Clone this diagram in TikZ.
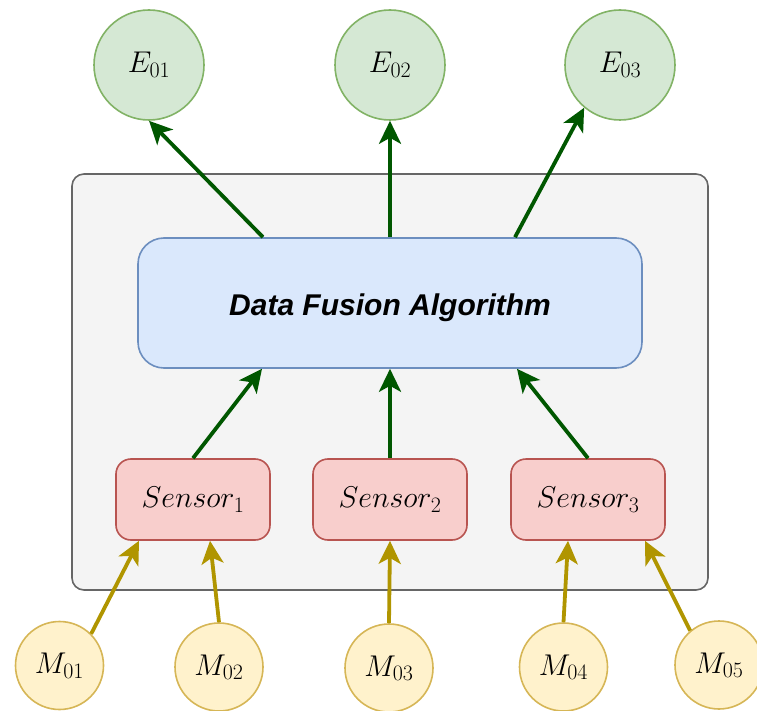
\RequirePackage{fix-cm}
\documentclass[tikz,border=0pt]{standalone}
\usepackage{fontspec}
\newfontfamily\labelsans{Liberation Sans}
\usetikzlibrary{arrows.meta}
\DeclareMathSizes{30}{30}{22}{16}
\definecolor{eFill}{HTML}{D5E8D4}
\definecolor{eLine}{HTML}{82B366}
\definecolor{mFill}{HTML}{FFF2CC}
\definecolor{mLine}{HTML}{D6B656}
\definecolor{sFill}{HTML}{F8CECC}
\definecolor{sLine}{HTML}{B85450}
\definecolor{aFill}{HTML}{DAE8FC}
\definecolor{aLine}{HTML}{6C8EBF}
\definecolor{boxFill}{HTML}{F4F4F4}
\definecolor{boxLine}{HTML}{666666}
\definecolor{outArrow}{HTML}{005700}
\definecolor{inArrow}{HTML}{B09500}
\tikzset{
  x=1pt, y=-1pt,
  mathlabel/.style={font=\fontsize{30}{34}\selectfont},
  estimate/.style={circle, draw=eLine, fill=eFill, line width=1.6pt, minimum size=110pt, inner sep=0pt, mathlabel},
  measure/.style={circle, draw=mLine, fill=mFill, line width=1.6pt, minimum size=88pt, inner sep=0pt, mathlabel},
  sensorbox/.style={rounded corners=15pt, draw=sLine, fill=sFill, line width=1.6pt, minimum width=154pt, minimum height=81pt, inner sep=0pt, mathlabel},
  fusionbox/.style={rounded corners=26pt, draw=aLine, fill=aFill, line width=1.6pt, minimum width=504pt, minimum height=130pt, inner sep=0pt, font=\labelsans\bfseries\itshape\fontsize{30}{34}\selectfont},
  outflow/.style={draw=outArrow, line width=3.8pt, -{Stealth[length=23pt, width=22pt, inset=6pt]}},
  inflow/.style={draw=inArrow, line width=3.8pt, -{Stealth[length=23pt, width=22pt, inset=6pt]}},
}
\begin{document}
\begin{tikzpicture}
\useasboundingbox (0,0) rectangle (757,711);
% enclosing panel
\draw[boxLine, fill=boxFill, line width=1.6pt, rounded corners=12pt] (72,174) rectangle (708,590);
% fusion stage (label baseline set below the box centre)
\node[fusionbox] (fusion) at (390,303) {\smash{\raisebox{-12pt}{Data Fusion Algorithm}}};
% sensors
\node[sensorbox] (s1) at (193,499.5) {$Sensor_1$};
\node[sensorbox] (s2) at (390,499.5) {$Sensor_2$};
\node[sensorbox] (s3) at (588,499.5) {$Sensor_3$};
% estimates
\node[estimate] (e1) at (149,65) {$E_{01}$};
\node[estimate] (e2) at (390,65) {$E_{02}$};
\node[estimate] (e3) at (620,65) {$E_{03}$};
% measurements
\node[measure] (m1) at (59.5,665.5) {$M_{01}$};
\node[measure] (m2) at (219,667) {$M_{02}$};
\node[measure] (m3) at (389,668) {$M_{03}$};
\node[measure] (m4) at (563.5,667) {$M_{04}$};
\node[measure] (m5) at (719,665) {$M_{05}$};
% fusion to estimates
\draw[outflow] ([xshift=-127pt]fusion.north) -- (e1.south);
\draw[outflow] (fusion.north) -- (e2.south);
\draw[outflow] ([xshift=125pt]fusion.north) -- (e3.-130);
% sensors to fusion
\draw[outflow] (s1.north) -- ([xshift=-128pt]fusion.south);
\draw[outflow] (s2.north) -- (fusion.south);
\draw[outflow] (s3.north) -- ([xshift=127pt]fusion.south);
% measurements to sensors
\draw[inflow] (m1.45) -- ([xshift=-54pt]s1.south);
\draw[inflow] (m2.north) -- ([xshift=17pt]s1.south);
\draw[inflow] (m3.north) -- (s2.south);
\draw[inflow] (m4.north) -- ([xshift=-20pt]s3.south);
\draw[inflow] (m5.130) -- ([xshift=57pt]s3.south);
\end{tikzpicture}
\end{document}
